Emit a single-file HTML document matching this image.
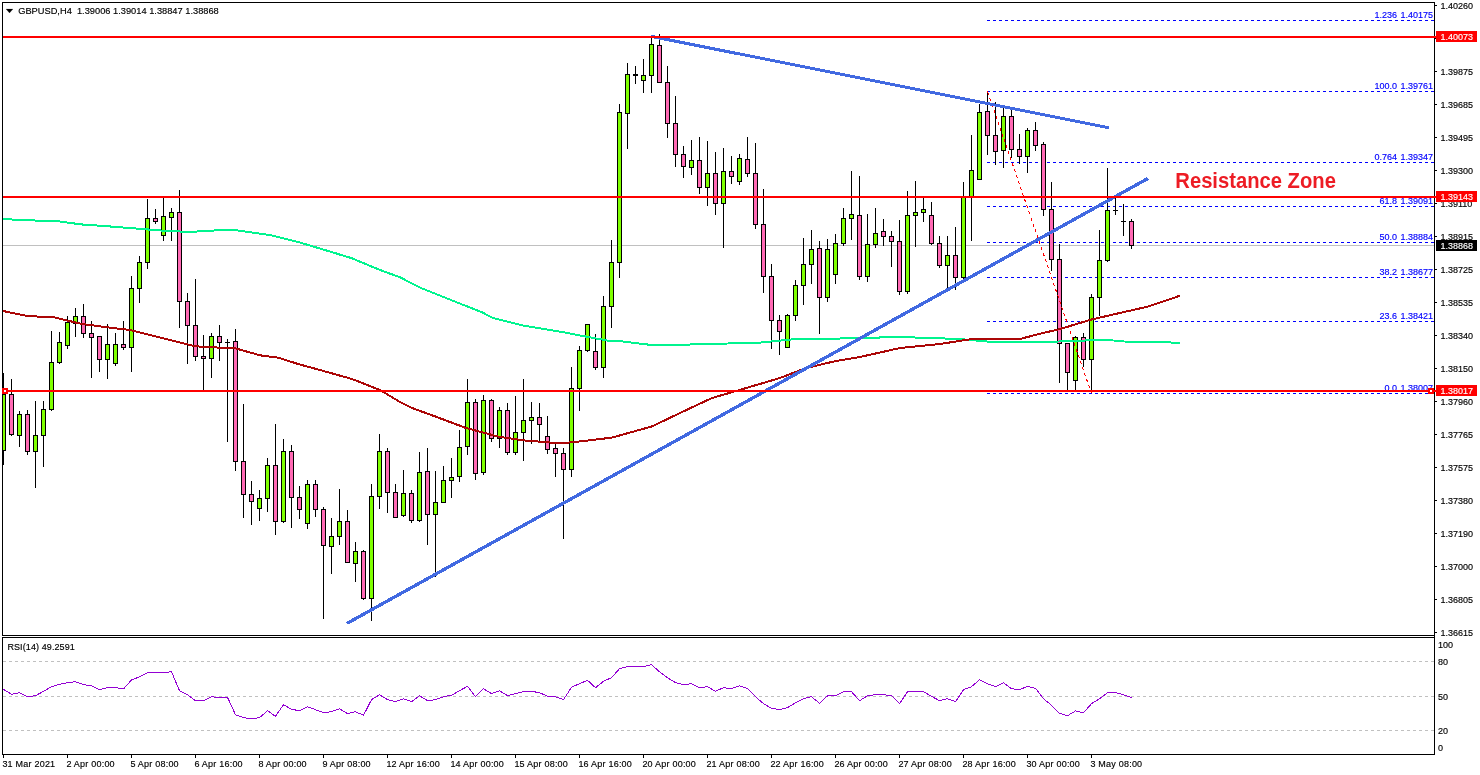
<!DOCTYPE html>
<html lang="en"><head><meta charset="utf-8"><title>GBPUSD,H4</title>
<style>
html,body{margin:0;padding:0;background:#fff;overflow:hidden}
svg{display:block;font-family:"Liberation Sans", sans-serif;font-size:9.0px}
.ax{fill:#000;stroke:#000}.fb{fill:#0000ff;stroke:#0000ff;word-spacing:1px}.wl{fill:#fff;stroke:#fff}.ax,.fb,.wl{stroke-width:.15px}
.rz{font-weight:bold;font-size:21.6px;fill:#ed1c24}
</style></head><body>
<svg width="1480" height="775" viewBox="0 0 1480 775">
<rect x="0" y="0" width="1480" height="775" fill="#fff"/>
<defs><clipPath id="cp"><rect x="2" y="2" width="1432" height="633"/></clipPath></defs>
<g clip-path="url(#cp)" shape-rendering="crispEdges">
<rect x="3" y="245" width="1431" height="1" fill="#c0c0c0"/>
<line x1="987" y1="20.5" x2="1434" y2="20.5" stroke="#0000ff" stroke-width="1" stroke-dasharray="3 3"/>
<line x1="987" y1="91.5" x2="1434" y2="91.5" stroke="#0000ff" stroke-width="1" stroke-dasharray="3 3"/>
<line x1="987" y1="162.5" x2="1434" y2="162.5" stroke="#0000ff" stroke-width="1" stroke-dasharray="3 3"/>
<line x1="987" y1="206.5" x2="1434" y2="206.5" stroke="#0000ff" stroke-width="1" stroke-dasharray="3 3"/>
<line x1="987" y1="242.5" x2="1434" y2="242.5" stroke="#0000ff" stroke-width="1" stroke-dasharray="3 3"/>
<line x1="987" y1="277.5" x2="1434" y2="277.5" stroke="#0000ff" stroke-width="1" stroke-dasharray="3 3"/>
<line x1="987" y1="321.5" x2="1434" y2="321.5" stroke="#0000ff" stroke-width="1" stroke-dasharray="3 3"/>
<line x1="987" y1="393.5" x2="1434" y2="393.5" stroke="#0000ff" stroke-width="1" stroke-dasharray="3 3"/>
</g>
<g class="fb" text-anchor="end">
<text x="1433" y="18">1.236 1.40175</text>
<text x="1433" y="89">100.0 1.39761</text>
<text x="1433" y="160">0.764 1.39347</text>
<text x="1433" y="204">61.8 1.39091</text>
<text x="1433" y="240">50.0 1.38884</text>
<text x="1433" y="275">38.2 1.38677</text>
<text x="1433" y="319">23.6 1.38421</text>
<text x="1433" y="391">0.0 1.38007</text>
</g>
<g clip-path="url(#cp)" shape-rendering="crispEdges">
<rect x="3" y="373" width="1" height="92" fill="#000"/>
<rect x="1" y="394" width="5" height="57" fill="#000"/>
<rect x="2" y="395" width="3" height="55" fill="#7fff00"/>
<rect x="11" y="379" width="1" height="57" fill="#000"/>
<rect x="9" y="394" width="5" height="41" fill="#000"/>
<rect x="10" y="395" width="3" height="39" fill="#ff69b4"/>
<rect x="19" y="411" width="1" height="36" fill="#000"/>
<rect x="17" y="414" width="5" height="22" fill="#000"/>
<rect x="18" y="415" width="3" height="20" fill="#7fff00"/>
<rect x="27" y="410" width="1" height="45" fill="#000"/>
<rect x="25" y="414" width="5" height="38" fill="#000"/>
<rect x="26" y="415" width="3" height="36" fill="#ff69b4"/>
<rect x="35" y="401" width="1" height="87" fill="#000"/>
<rect x="33" y="435" width="5" height="17" fill="#000"/>
<rect x="34" y="436" width="3" height="15" fill="#7fff00"/>
<rect x="43" y="401" width="1" height="66" fill="#000"/>
<rect x="41" y="409" width="5" height="27" fill="#000"/>
<rect x="42" y="410" width="3" height="25" fill="#7fff00"/>
<rect x="51" y="331" width="1" height="80" fill="#000"/>
<rect x="49" y="362" width="5" height="48" fill="#000"/>
<rect x="50" y="363" width="3" height="46" fill="#7fff00"/>
<rect x="59" y="332" width="1" height="32" fill="#000"/>
<rect x="57" y="342" width="5" height="21" fill="#000"/>
<rect x="58" y="343" width="3" height="19" fill="#7fff00"/>
<rect x="67" y="316" width="1" height="33" fill="#000"/>
<rect x="65" y="322" width="5" height="24" fill="#000"/>
<rect x="66" y="323" width="3" height="22" fill="#7fff00"/>
<rect x="75" y="308" width="1" height="29" fill="#000"/>
<rect x="73" y="316" width="5" height="8" fill="#000"/>
<rect x="74" y="317" width="3" height="6" fill="#7fff00"/>
<rect x="83" y="304" width="1" height="34" fill="#000"/>
<rect x="81" y="316" width="5" height="18" fill="#000"/>
<rect x="82" y="317" width="3" height="16" fill="#ff69b4"/>
<rect x="91" y="321" width="1" height="57" fill="#000"/>
<rect x="89" y="333" width="5" height="5" fill="#000"/>
<rect x="90" y="334" width="3" height="3" fill="#ff69b4"/>
<rect x="99" y="336" width="1" height="36" fill="#000"/>
<rect x="97" y="336" width="5" height="24" fill="#000"/>
<rect x="98" y="337" width="3" height="22" fill="#ff69b4"/>
<rect x="107" y="324" width="1" height="55" fill="#000"/>
<rect x="105" y="344" width="5" height="16" fill="#000"/>
<rect x="106" y="345" width="3" height="14" fill="#7fff00"/>
<rect x="115" y="333" width="1" height="33" fill="#000"/>
<rect x="113" y="344" width="5" height="20" fill="#000"/>
<rect x="114" y="345" width="3" height="18" fill="#7fff00"/>
<rect x="123" y="321" width="1" height="29" fill="#000"/>
<rect x="121" y="344" width="5" height="4" fill="#000"/>
<rect x="122" y="345" width="3" height="2" fill="#ff69b4"/>
<rect x="131" y="276" width="1" height="96" fill="#000"/>
<rect x="129" y="288" width="5" height="60" fill="#000"/>
<rect x="130" y="289" width="3" height="58" fill="#7fff00"/>
<rect x="139" y="256" width="1" height="47" fill="#000"/>
<rect x="137" y="262" width="5" height="27" fill="#000"/>
<rect x="138" y="263" width="3" height="25" fill="#7fff00"/>
<rect x="147" y="199" width="1" height="70" fill="#000"/>
<rect x="145" y="218" width="5" height="45" fill="#000"/>
<rect x="146" y="219" width="3" height="43" fill="#7fff00"/>
<rect x="155" y="209" width="1" height="15" fill="#000"/>
<rect x="153" y="218" width="5" height="4" fill="#000"/>
<rect x="154" y="219" width="3" height="2" fill="#ff69b4"/>
<rect x="163" y="197" width="1" height="44" fill="#000"/>
<rect x="161" y="216" width="5" height="20" fill="#000"/>
<rect x="162" y="217" width="3" height="18" fill="#7fff00"/>
<rect x="171" y="208" width="1" height="33" fill="#000"/>
<rect x="169" y="212" width="5" height="6" fill="#000"/>
<rect x="170" y="213" width="3" height="4" fill="#7fff00"/>
<rect x="179" y="190" width="1" height="138" fill="#000"/>
<rect x="177" y="212" width="5" height="90" fill="#000"/>
<rect x="178" y="213" width="3" height="88" fill="#ff69b4"/>
<rect x="187" y="293" width="1" height="71" fill="#000"/>
<rect x="185" y="301" width="5" height="25" fill="#000"/>
<rect x="186" y="302" width="3" height="23" fill="#ff69b4"/>
<rect x="195" y="279" width="1" height="82" fill="#000"/>
<rect x="193" y="325" width="5" height="32" fill="#000"/>
<rect x="194" y="326" width="3" height="30" fill="#ff69b4"/>
<rect x="203" y="335" width="1" height="55" fill="#000"/>
<rect x="201" y="356" width="5" height="3" fill="#000"/>
<rect x="202" y="357" width="3" height="1" fill="#ff69b4"/>
<rect x="211" y="333" width="1" height="45" fill="#000"/>
<rect x="209" y="336" width="5" height="23" fill="#000"/>
<rect x="210" y="337" width="3" height="21" fill="#7fff00"/>
<rect x="219" y="325" width="1" height="36" fill="#000"/>
<rect x="217" y="336" width="5" height="7" fill="#000"/>
<rect x="218" y="337" width="3" height="5" fill="#ff69b4"/>
<rect x="227" y="339" width="1" height="103" fill="#000"/>
<rect x="225" y="342" width="5" height="1" fill="#000"/>
<rect x="235" y="329" width="1" height="142" fill="#000"/>
<rect x="233" y="341" width="5" height="121" fill="#000"/>
<rect x="234" y="342" width="3" height="119" fill="#ff69b4"/>
<rect x="243" y="404" width="1" height="114" fill="#000"/>
<rect x="241" y="461" width="5" height="34" fill="#000"/>
<rect x="242" y="462" width="3" height="32" fill="#ff69b4"/>
<rect x="251" y="481" width="1" height="44" fill="#000"/>
<rect x="249" y="494" width="5" height="8" fill="#000"/>
<rect x="250" y="495" width="3" height="6" fill="#ff69b4"/>
<rect x="259" y="490" width="1" height="31" fill="#000"/>
<rect x="257" y="498" width="5" height="11" fill="#000"/>
<rect x="258" y="499" width="3" height="9" fill="#7fff00"/>
<rect x="267" y="458" width="1" height="54" fill="#000"/>
<rect x="265" y="465" width="5" height="34" fill="#000"/>
<rect x="266" y="466" width="3" height="32" fill="#7fff00"/>
<rect x="275" y="424" width="1" height="111" fill="#000"/>
<rect x="273" y="465" width="5" height="57" fill="#000"/>
<rect x="274" y="466" width="3" height="55" fill="#ff69b4"/>
<rect x="283" y="439" width="1" height="84" fill="#000"/>
<rect x="281" y="451" width="5" height="71" fill="#000"/>
<rect x="282" y="452" width="3" height="69" fill="#7fff00"/>
<rect x="291" y="445" width="1" height="83" fill="#000"/>
<rect x="289" y="451" width="5" height="47" fill="#000"/>
<rect x="290" y="452" width="3" height="45" fill="#ff69b4"/>
<rect x="299" y="486" width="1" height="33" fill="#000"/>
<rect x="297" y="497" width="5" height="13" fill="#000"/>
<rect x="298" y="498" width="3" height="11" fill="#ff69b4"/>
<rect x="307" y="480" width="1" height="49" fill="#000"/>
<rect x="305" y="484" width="5" height="40" fill="#000"/>
<rect x="306" y="485" width="3" height="38" fill="#7fff00"/>
<rect x="315" y="480" width="1" height="37" fill="#000"/>
<rect x="313" y="484" width="5" height="26" fill="#000"/>
<rect x="314" y="485" width="3" height="24" fill="#ff69b4"/>
<rect x="323" y="507" width="1" height="112" fill="#000"/>
<rect x="321" y="509" width="5" height="37" fill="#000"/>
<rect x="322" y="510" width="3" height="35" fill="#ff69b4"/>
<rect x="331" y="518" width="1" height="56" fill="#000"/>
<rect x="329" y="536" width="5" height="11" fill="#000"/>
<rect x="330" y="537" width="3" height="9" fill="#7fff00"/>
<rect x="339" y="489" width="1" height="56" fill="#000"/>
<rect x="337" y="521" width="5" height="16" fill="#000"/>
<rect x="338" y="522" width="3" height="14" fill="#7fff00"/>
<rect x="347" y="510" width="1" height="53" fill="#000"/>
<rect x="345" y="521" width="5" height="42" fill="#000"/>
<rect x="346" y="522" width="3" height="40" fill="#ff69b4"/>
<rect x="355" y="542" width="1" height="40" fill="#000"/>
<rect x="353" y="551" width="5" height="13" fill="#000"/>
<rect x="354" y="552" width="3" height="11" fill="#7fff00"/>
<rect x="363" y="550" width="1" height="50" fill="#000"/>
<rect x="361" y="551" width="5" height="48" fill="#000"/>
<rect x="362" y="552" width="3" height="46" fill="#ff69b4"/>
<rect x="371" y="484" width="1" height="137" fill="#000"/>
<rect x="369" y="496" width="5" height="103" fill="#000"/>
<rect x="370" y="497" width="3" height="101" fill="#7fff00"/>
<rect x="379" y="434" width="1" height="75" fill="#000"/>
<rect x="377" y="451" width="5" height="46" fill="#000"/>
<rect x="378" y="452" width="3" height="44" fill="#7fff00"/>
<rect x="387" y="448" width="1" height="65" fill="#000"/>
<rect x="385" y="451" width="5" height="42" fill="#000"/>
<rect x="386" y="452" width="3" height="40" fill="#ff69b4"/>
<rect x="395" y="484" width="1" height="34" fill="#000"/>
<rect x="393" y="492" width="5" height="26" fill="#000"/>
<rect x="394" y="493" width="3" height="24" fill="#ff69b4"/>
<rect x="403" y="470" width="1" height="47" fill="#000"/>
<rect x="401" y="493" width="5" height="23" fill="#000"/>
<rect x="402" y="494" width="3" height="21" fill="#7fff00"/>
<rect x="411" y="490" width="1" height="33" fill="#000"/>
<rect x="409" y="493" width="5" height="28" fill="#000"/>
<rect x="410" y="494" width="3" height="26" fill="#ff69b4"/>
<rect x="419" y="452" width="1" height="70" fill="#000"/>
<rect x="417" y="472" width="5" height="49" fill="#000"/>
<rect x="418" y="473" width="3" height="47" fill="#7fff00"/>
<rect x="427" y="448" width="1" height="97" fill="#000"/>
<rect x="425" y="471" width="5" height="44" fill="#000"/>
<rect x="426" y="472" width="3" height="42" fill="#ff69b4"/>
<rect x="435" y="471" width="1" height="106" fill="#000"/>
<rect x="433" y="502" width="5" height="13" fill="#000"/>
<rect x="434" y="503" width="3" height="11" fill="#7fff00"/>
<rect x="443" y="466" width="1" height="37" fill="#000"/>
<rect x="441" y="480" width="5" height="23" fill="#000"/>
<rect x="442" y="481" width="3" height="21" fill="#7fff00"/>
<rect x="451" y="458" width="1" height="40" fill="#000"/>
<rect x="449" y="477" width="5" height="4" fill="#000"/>
<rect x="450" y="478" width="3" height="2" fill="#7fff00"/>
<rect x="459" y="430" width="1" height="52" fill="#000"/>
<rect x="457" y="447" width="5" height="30" fill="#000"/>
<rect x="458" y="448" width="3" height="28" fill="#7fff00"/>
<rect x="467" y="379" width="1" height="76" fill="#000"/>
<rect x="465" y="402" width="5" height="45" fill="#000"/>
<rect x="466" y="403" width="3" height="43" fill="#7fff00"/>
<rect x="475" y="399" width="1" height="81" fill="#000"/>
<rect x="473" y="402" width="5" height="72" fill="#000"/>
<rect x="474" y="403" width="3" height="70" fill="#ff69b4"/>
<rect x="483" y="395" width="1" height="80" fill="#000"/>
<rect x="481" y="400" width="5" height="73" fill="#000"/>
<rect x="482" y="401" width="3" height="71" fill="#7fff00"/>
<rect x="491" y="399" width="1" height="43" fill="#000"/>
<rect x="489" y="400" width="5" height="39" fill="#000"/>
<rect x="490" y="401" width="3" height="37" fill="#ff69b4"/>
<rect x="499" y="407" width="1" height="41" fill="#000"/>
<rect x="497" y="410" width="5" height="29" fill="#000"/>
<rect x="498" y="411" width="3" height="27" fill="#7fff00"/>
<rect x="507" y="403" width="1" height="52" fill="#000"/>
<rect x="505" y="410" width="5" height="43" fill="#000"/>
<rect x="506" y="411" width="3" height="41" fill="#ff69b4"/>
<rect x="515" y="396" width="1" height="59" fill="#000"/>
<rect x="513" y="432" width="5" height="21" fill="#000"/>
<rect x="514" y="433" width="3" height="19" fill="#7fff00"/>
<rect x="523" y="379" width="1" height="82" fill="#000"/>
<rect x="521" y="420" width="5" height="13" fill="#000"/>
<rect x="522" y="421" width="3" height="11" fill="#7fff00"/>
<rect x="531" y="402" width="1" height="42" fill="#000"/>
<rect x="529" y="417" width="5" height="4" fill="#000"/>
<rect x="530" y="418" width="3" height="2" fill="#7fff00"/>
<rect x="539" y="403" width="1" height="39" fill="#000"/>
<rect x="537" y="417" width="5" height="8" fill="#000"/>
<rect x="538" y="418" width="3" height="6" fill="#ff69b4"/>
<rect x="547" y="416" width="1" height="38" fill="#000"/>
<rect x="545" y="436" width="5" height="14" fill="#000"/>
<rect x="546" y="437" width="3" height="12" fill="#ff69b4"/>
<rect x="555" y="444" width="1" height="33" fill="#000"/>
<rect x="553" y="448" width="5" height="6" fill="#000"/>
<rect x="554" y="449" width="3" height="4" fill="#ff69b4"/>
<rect x="563" y="448" width="1" height="91" fill="#000"/>
<rect x="561" y="453" width="5" height="17" fill="#000"/>
<rect x="562" y="454" width="3" height="15" fill="#ff69b4"/>
<rect x="571" y="367" width="1" height="110" fill="#000"/>
<rect x="569" y="388" width="5" height="82" fill="#000"/>
<rect x="570" y="389" width="3" height="80" fill="#7fff00"/>
<rect x="579" y="346" width="1" height="65" fill="#000"/>
<rect x="577" y="350" width="5" height="39" fill="#000"/>
<rect x="578" y="351" width="3" height="37" fill="#7fff00"/>
<rect x="587" y="324" width="1" height="28" fill="#000"/>
<rect x="585" y="324" width="5" height="27" fill="#000"/>
<rect x="586" y="325" width="3" height="25" fill="#7fff00"/>
<rect x="595" y="334" width="1" height="36" fill="#000"/>
<rect x="593" y="351" width="5" height="17" fill="#000"/>
<rect x="594" y="352" width="3" height="15" fill="#ff69b4"/>
<rect x="603" y="296" width="1" height="82" fill="#000"/>
<rect x="601" y="306" width="5" height="62" fill="#000"/>
<rect x="602" y="307" width="3" height="60" fill="#7fff00"/>
<rect x="611" y="240" width="1" height="88" fill="#000"/>
<rect x="609" y="262" width="5" height="45" fill="#000"/>
<rect x="610" y="263" width="3" height="43" fill="#7fff00"/>
<rect x="619" y="104" width="1" height="174" fill="#000"/>
<rect x="617" y="112" width="5" height="151" fill="#000"/>
<rect x="618" y="113" width="3" height="149" fill="#7fff00"/>
<rect x="627" y="63" width="1" height="86" fill="#000"/>
<rect x="625" y="74" width="5" height="40" fill="#000"/>
<rect x="626" y="75" width="3" height="38" fill="#7fff00"/>
<rect x="635" y="66" width="1" height="18" fill="#000"/>
<rect x="633" y="74" width="5" height="2" fill="#000"/>
<rect x="643" y="59" width="1" height="34" fill="#000"/>
<rect x="641" y="75" width="5" height="6" fill="#000"/>
<rect x="642" y="76" width="3" height="4" fill="#7fff00"/>
<rect x="651" y="35" width="1" height="58" fill="#000"/>
<rect x="649" y="44" width="5" height="32" fill="#000"/>
<rect x="650" y="45" width="3" height="30" fill="#7fff00"/>
<rect x="659" y="34" width="1" height="49" fill="#000"/>
<rect x="657" y="45" width="5" height="38" fill="#000"/>
<rect x="658" y="46" width="3" height="36" fill="#ff69b4"/>
<rect x="667" y="66" width="1" height="72" fill="#000"/>
<rect x="665" y="82" width="5" height="42" fill="#000"/>
<rect x="666" y="83" width="3" height="40" fill="#ff69b4"/>
<rect x="675" y="96" width="1" height="71" fill="#000"/>
<rect x="673" y="123" width="5" height="32" fill="#000"/>
<rect x="674" y="124" width="3" height="30" fill="#ff69b4"/>
<rect x="683" y="146" width="1" height="32" fill="#000"/>
<rect x="681" y="154" width="5" height="13" fill="#000"/>
<rect x="682" y="155" width="3" height="11" fill="#ff69b4"/>
<rect x="691" y="140" width="1" height="35" fill="#000"/>
<rect x="689" y="160" width="5" height="8" fill="#000"/>
<rect x="690" y="161" width="3" height="6" fill="#7fff00"/>
<rect x="699" y="137" width="1" height="57" fill="#000"/>
<rect x="697" y="160" width="5" height="28" fill="#000"/>
<rect x="698" y="161" width="3" height="26" fill="#ff69b4"/>
<rect x="707" y="141" width="1" height="65" fill="#000"/>
<rect x="705" y="173" width="5" height="15" fill="#000"/>
<rect x="706" y="174" width="3" height="13" fill="#7fff00"/>
<rect x="715" y="152" width="1" height="63" fill="#000"/>
<rect x="713" y="173" width="5" height="31" fill="#000"/>
<rect x="714" y="174" width="3" height="29" fill="#ff69b4"/>
<rect x="723" y="148" width="1" height="100" fill="#000"/>
<rect x="721" y="171" width="5" height="33" fill="#000"/>
<rect x="722" y="172" width="3" height="31" fill="#7fff00"/>
<rect x="731" y="156" width="1" height="28" fill="#000"/>
<rect x="729" y="171" width="5" height="6" fill="#000"/>
<rect x="730" y="172" width="3" height="4" fill="#ff69b4"/>
<rect x="739" y="154" width="1" height="31" fill="#000"/>
<rect x="737" y="158" width="5" height="24" fill="#000"/>
<rect x="738" y="159" width="3" height="22" fill="#7fff00"/>
<rect x="747" y="137" width="1" height="40" fill="#000"/>
<rect x="745" y="159" width="5" height="15" fill="#000"/>
<rect x="746" y="160" width="3" height="13" fill="#ff69b4"/>
<rect x="755" y="143" width="1" height="86" fill="#000"/>
<rect x="753" y="173" width="5" height="52" fill="#000"/>
<rect x="754" y="174" width="3" height="50" fill="#ff69b4"/>
<rect x="763" y="189" width="1" height="104" fill="#000"/>
<rect x="761" y="224" width="5" height="53" fill="#000"/>
<rect x="762" y="225" width="3" height="51" fill="#ff69b4"/>
<rect x="771" y="264" width="1" height="85" fill="#000"/>
<rect x="769" y="276" width="5" height="45" fill="#000"/>
<rect x="770" y="277" width="3" height="43" fill="#ff69b4"/>
<rect x="779" y="315" width="1" height="40" fill="#000"/>
<rect x="777" y="320" width="5" height="12" fill="#000"/>
<rect x="778" y="321" width="3" height="10" fill="#ff69b4"/>
<rect x="787" y="314" width="1" height="34" fill="#000"/>
<rect x="785" y="315" width="5" height="33" fill="#000"/>
<rect x="786" y="316" width="3" height="31" fill="#7fff00"/>
<rect x="795" y="280" width="1" height="41" fill="#000"/>
<rect x="793" y="285" width="5" height="31" fill="#000"/>
<rect x="794" y="286" width="3" height="29" fill="#7fff00"/>
<rect x="803" y="238" width="1" height="67" fill="#000"/>
<rect x="801" y="264" width="5" height="22" fill="#000"/>
<rect x="802" y="265" width="3" height="20" fill="#7fff00"/>
<rect x="811" y="230" width="1" height="54" fill="#000"/>
<rect x="809" y="249" width="5" height="16" fill="#000"/>
<rect x="810" y="250" width="3" height="14" fill="#7fff00"/>
<rect x="819" y="241" width="1" height="93" fill="#000"/>
<rect x="817" y="248" width="5" height="50" fill="#000"/>
<rect x="818" y="249" width="3" height="48" fill="#ff69b4"/>
<rect x="827" y="239" width="1" height="63" fill="#000"/>
<rect x="825" y="249" width="5" height="49" fill="#000"/>
<rect x="826" y="250" width="3" height="47" fill="#7fff00"/>
<rect x="835" y="234" width="1" height="50" fill="#000"/>
<rect x="833" y="243" width="5" height="32" fill="#000"/>
<rect x="834" y="244" width="3" height="30" fill="#7fff00"/>
<rect x="843" y="208" width="1" height="38" fill="#000"/>
<rect x="841" y="218" width="5" height="26" fill="#000"/>
<rect x="842" y="219" width="3" height="24" fill="#7fff00"/>
<rect x="851" y="171" width="1" height="69" fill="#000"/>
<rect x="849" y="214" width="5" height="5" fill="#000"/>
<rect x="850" y="215" width="3" height="3" fill="#7fff00"/>
<rect x="859" y="176" width="1" height="104" fill="#000"/>
<rect x="857" y="215" width="5" height="62" fill="#000"/>
<rect x="858" y="216" width="3" height="60" fill="#ff69b4"/>
<rect x="867" y="214" width="1" height="68" fill="#000"/>
<rect x="865" y="244" width="5" height="33" fill="#000"/>
<rect x="866" y="245" width="3" height="31" fill="#7fff00"/>
<rect x="875" y="208" width="1" height="40" fill="#000"/>
<rect x="873" y="233" width="5" height="12" fill="#000"/>
<rect x="874" y="234" width="3" height="10" fill="#7fff00"/>
<rect x="883" y="219" width="1" height="27" fill="#000"/>
<rect x="881" y="231" width="5" height="6" fill="#000"/>
<rect x="882" y="232" width="3" height="4" fill="#ff69b4"/>
<rect x="891" y="231" width="1" height="36" fill="#000"/>
<rect x="889" y="236" width="5" height="6" fill="#000"/>
<rect x="890" y="237" width="3" height="4" fill="#ff69b4"/>
<rect x="899" y="220" width="1" height="75" fill="#000"/>
<rect x="897" y="241" width="5" height="51" fill="#000"/>
<rect x="898" y="242" width="3" height="49" fill="#ff69b4"/>
<rect x="907" y="191" width="1" height="103" fill="#000"/>
<rect x="905" y="215" width="5" height="77" fill="#000"/>
<rect x="906" y="216" width="3" height="75" fill="#7fff00"/>
<rect x="915" y="181" width="1" height="66" fill="#000"/>
<rect x="913" y="212" width="5" height="4" fill="#000"/>
<rect x="914" y="213" width="3" height="2" fill="#7fff00"/>
<rect x="923" y="198" width="1" height="24" fill="#000"/>
<rect x="921" y="209" width="5" height="4" fill="#000"/>
<rect x="922" y="210" width="3" height="2" fill="#7fff00"/>
<rect x="931" y="202" width="1" height="43" fill="#000"/>
<rect x="929" y="215" width="5" height="29" fill="#000"/>
<rect x="930" y="216" width="3" height="27" fill="#ff69b4"/>
<rect x="939" y="236" width="1" height="32" fill="#000"/>
<rect x="937" y="243" width="5" height="23" fill="#000"/>
<rect x="938" y="244" width="3" height="21" fill="#ff69b4"/>
<rect x="947" y="236" width="1" height="52" fill="#000"/>
<rect x="945" y="255" width="5" height="11" fill="#000"/>
<rect x="946" y="256" width="3" height="9" fill="#7fff00"/>
<rect x="955" y="227" width="1" height="63" fill="#000"/>
<rect x="953" y="255" width="5" height="23" fill="#000"/>
<rect x="954" y="256" width="3" height="21" fill="#ff69b4"/>
<rect x="963" y="182" width="1" height="97" fill="#000"/>
<rect x="961" y="197" width="5" height="81" fill="#000"/>
<rect x="962" y="198" width="3" height="79" fill="#7fff00"/>
<rect x="971" y="135" width="1" height="106" fill="#000"/>
<rect x="969" y="170" width="5" height="28" fill="#000"/>
<rect x="970" y="171" width="3" height="26" fill="#7fff00"/>
<rect x="979" y="104" width="1" height="76" fill="#000"/>
<rect x="977" y="112" width="5" height="68" fill="#000"/>
<rect x="978" y="113" width="3" height="66" fill="#7fff00"/>
<rect x="987" y="92" width="1" height="63" fill="#000"/>
<rect x="985" y="111" width="5" height="25" fill="#000"/>
<rect x="986" y="112" width="3" height="23" fill="#ff69b4"/>
<rect x="995" y="102" width="1" height="63" fill="#000"/>
<rect x="993" y="135" width="5" height="17" fill="#000"/>
<rect x="994" y="136" width="3" height="15" fill="#ff69b4"/>
<rect x="1003" y="108" width="1" height="60" fill="#000"/>
<rect x="1001" y="116" width="5" height="35" fill="#000"/>
<rect x="1002" y="117" width="3" height="33" fill="#7fff00"/>
<rect x="1011" y="110" width="1" height="48" fill="#000"/>
<rect x="1009" y="116" width="5" height="34" fill="#000"/>
<rect x="1010" y="117" width="3" height="32" fill="#ff69b4"/>
<rect x="1019" y="134" width="1" height="30" fill="#000"/>
<rect x="1017" y="149" width="5" height="8" fill="#000"/>
<rect x="1018" y="150" width="3" height="6" fill="#ff69b4"/>
<rect x="1027" y="128" width="1" height="45" fill="#000"/>
<rect x="1025" y="130" width="5" height="27" fill="#000"/>
<rect x="1026" y="131" width="3" height="25" fill="#7fff00"/>
<rect x="1035" y="122" width="1" height="29" fill="#000"/>
<rect x="1033" y="130" width="5" height="16" fill="#000"/>
<rect x="1034" y="131" width="3" height="14" fill="#ff69b4"/>
<rect x="1043" y="142" width="1" height="74" fill="#000"/>
<rect x="1041" y="144" width="5" height="66" fill="#000"/>
<rect x="1042" y="145" width="3" height="64" fill="#ff69b4"/>
<rect x="1051" y="182" width="1" height="89" fill="#000"/>
<rect x="1049" y="209" width="5" height="51" fill="#000"/>
<rect x="1050" y="210" width="3" height="49" fill="#ff69b4"/>
<rect x="1059" y="244" width="1" height="139" fill="#000"/>
<rect x="1057" y="259" width="5" height="85" fill="#000"/>
<rect x="1058" y="260" width="3" height="83" fill="#ff69b4"/>
<rect x="1067" y="343" width="1" height="48" fill="#000"/>
<rect x="1065" y="343" width="5" height="30" fill="#000"/>
<rect x="1066" y="344" width="3" height="28" fill="#ff69b4"/>
<rect x="1075" y="336" width="1" height="55" fill="#000"/>
<rect x="1073" y="337" width="5" height="44" fill="#000"/>
<rect x="1074" y="338" width="3" height="42" fill="#7fff00"/>
<rect x="1083" y="333" width="1" height="34" fill="#000"/>
<rect x="1081" y="337" width="5" height="23" fill="#000"/>
<rect x="1082" y="338" width="3" height="21" fill="#ff69b4"/>
<rect x="1091" y="294" width="1" height="98" fill="#000"/>
<rect x="1089" y="297" width="5" height="63" fill="#000"/>
<rect x="1090" y="298" width="3" height="61" fill="#7fff00"/>
<rect x="1099" y="230" width="1" height="86" fill="#000"/>
<rect x="1097" y="260" width="5" height="38" fill="#000"/>
<rect x="1098" y="261" width="3" height="36" fill="#7fff00"/>
<rect x="1107" y="168" width="1" height="94" fill="#000"/>
<rect x="1105" y="210" width="5" height="51" fill="#000"/>
<rect x="1106" y="211" width="3" height="49" fill="#7fff00"/>
<rect x="1115" y="198" width="1" height="17" fill="#000"/>
<rect x="1113" y="210" width="5" height="1" fill="#000"/>
<rect x="1123" y="204" width="1" height="32" fill="#000"/>
<rect x="1121" y="221" width="5" height="1" fill="#000"/>
<rect x="1131" y="219" width="1" height="30" fill="#000"/>
<rect x="1129" y="221" width="5" height="25" fill="#000"/>
<rect x="1130" y="222" width="3" height="23" fill="#ff69b4"/>
<line x1="987.5" y1="91.5" x2="1091.5" y2="393.5" stroke="#ff0000" stroke-width="1" stroke-dasharray="3.17 3.17"/>
<polyline points="3,219 27,220.3 57,221.1 81,224.4 108,226.3 135.5,228.5 162.6,230.6 190,232 211,230.6 233,229.8 252,232.5 271,235.2 298,242 325,250 352,258.3 380,270 400,277.3 420.5,287.8 440.8,295.9 461,304 481.4,312 492.5,317.8 522,325.3 542,328.7 562.4,332 582.7,336 607,340.5 623,341.5 651.6,345 680,345 700,344 756,343 796,339 836,338.6 900,337 960,339 996,342.4 1028,342.4 1076,341 1091.5,340.2 1106,339.8 1124,341.5 1171,342.5 1180,343" fill="none" stroke="#00f48e" stroke-width="2"/>
<polyline points="3,311 27,316 54,317.3 81,323.8 108,327.4 130,330 162.6,338.2 195,346.3 211,347.2 236,348.5 260,355.3 279,357.8 298,364 320,370 352,379 380,390 400,402 412,408 434,416 466,428 500,437 524,440.4 556,443 572,442.4 612,437.6 652,426.4 680,413 712,398 736,391 780,378 806,368 836,361 860,357 900,348 940,344 972,339 996,339 1020,339 1040,333.7 1059,329.3 1091.5,319.5 1121,312.7 1148,306.6 1180,295.7" fill="none" stroke="#ab0606" stroke-width="2"/>
<line x1="347" y1="623.4" x2="1148" y2="178.4" stroke="#4169e1" stroke-width="3.3"/>
<line x1="651" y1="36.3" x2="1109" y2="127.8" stroke="#4169e1" stroke-width="3"/>
</g>
<g shape-rendering="crispEdges">
<rect x="2" y="2" width="1433" height="1" fill="#000"/>
<rect x="2" y="2" width="1" height="634" fill="#000"/>
<rect x="2" y="635" width="1433" height="1" fill="#000"/>
<rect x="2" y="637" width="1433" height="1" fill="#000"/>
<rect x="2" y="637" width="1" height="118" fill="#000"/>
<rect x="2" y="754" width="1433" height="1" fill="#000"/>
<rect x="1434" y="2" width="1" height="753" fill="#000"/>
<rect x="1435" y="5" width="2" height="1" fill="#000"/>
<rect x="1435" y="38" width="2" height="1" fill="#000"/>
<rect x="1435" y="71" width="2" height="1" fill="#000"/>
<rect x="1435" y="104" width="2" height="1" fill="#000"/>
<rect x="1435" y="137" width="2" height="1" fill="#000"/>
<rect x="1435" y="170" width="2" height="1" fill="#000"/>
<rect x="1435" y="203" width="2" height="1" fill="#000"/>
<rect x="1435" y="236" width="2" height="1" fill="#000"/>
<rect x="1435" y="269" width="2" height="1" fill="#000"/>
<rect x="1435" y="302" width="2" height="1" fill="#000"/>
<rect x="1435" y="335" width="2" height="1" fill="#000"/>
<rect x="1435" y="368" width="2" height="1" fill="#000"/>
<rect x="1435" y="401" width="2" height="1" fill="#000"/>
<rect x="1435" y="434" width="2" height="1" fill="#000"/>
<rect x="1435" y="467" width="2" height="1" fill="#000"/>
<rect x="1435" y="500" width="2" height="1" fill="#000"/>
<rect x="1435" y="533" width="2" height="1" fill="#000"/>
<rect x="1435" y="566" width="2" height="1" fill="#000"/>
<rect x="1435" y="599" width="2" height="1" fill="#000"/>
<rect x="1435" y="632" width="2" height="1" fill="#000"/>
<rect x="3" y="755" width="1" height="3" fill="#000"/>
<rect x="67" y="755" width="1" height="3" fill="#000"/>
<rect x="131" y="755" width="1" height="3" fill="#000"/>
<rect x="195" y="755" width="1" height="3" fill="#000"/>
<rect x="259" y="755" width="1" height="3" fill="#000"/>
<rect x="323" y="755" width="1" height="3" fill="#000"/>
<rect x="387" y="755" width="1" height="3" fill="#000"/>
<rect x="451" y="755" width="1" height="3" fill="#000"/>
<rect x="515" y="755" width="1" height="3" fill="#000"/>
<rect x="579" y="755" width="1" height="3" fill="#000"/>
<rect x="643" y="755" width="1" height="3" fill="#000"/>
<rect x="707" y="755" width="1" height="3" fill="#000"/>
<rect x="771" y="755" width="1" height="3" fill="#000"/>
<rect x="835" y="755" width="1" height="3" fill="#000"/>
<rect x="899" y="755" width="1" height="3" fill="#000"/>
<rect x="963" y="755" width="1" height="3" fill="#000"/>
<rect x="1027" y="755" width="1" height="3" fill="#000"/>
<rect x="1091" y="755" width="1" height="3" fill="#000"/>
<line x1="3" y1="661.5" x2="1434" y2="661.5" stroke="#c0c0c0" stroke-width="1" stroke-dasharray="3 3"/>
<line x1="3" y1="696.5" x2="1434" y2="696.5" stroke="#c0c0c0" stroke-width="1" stroke-dasharray="3 3"/>
<line x1="3" y1="730.5" x2="1434" y2="730.5" stroke="#c0c0c0" stroke-width="1" stroke-dasharray="3 3"/>
</g>
<polyline fill="none" stroke="#9400d3" stroke-width="1" shape-rendering="crispEdges" points="3.5,689.3 11.5,694.3 19.5,692.7 27.5,696.7 35.5,695.7 43.5,691.3 51.5,686.8 59.5,684.3 67.5,682.7 75.5,681.7 83.5,684.7 91.5,685.7 99.5,689.7 107.5,687.7 115.5,687.7 123.5,688.9 131.5,679.9 139.5,676.9 147.5,672.7 155.5,672.7 163.5,672.7 171.5,671.7 179.5,690.7 187.5,694.7 195.5,700.7 203.5,700.7 211.5,696.7 219.5,697.7 227.5,697.3 235.5,714.7 243.5,717.7 251.5,718.7 259.5,717.7 267.5,710.7 275.5,716.3 283.5,704.7 291.5,709.3 299.5,710.7 307.5,706.7 315.5,709.7 323.5,712.7 331.5,711.7 339.5,708.7 347.5,713.7 355.5,711.7 363.5,715.3 371.5,699.7 379.5,694.7 387.5,699.7 395.5,701.7 403.5,698.7 411.5,701.7 419.5,695.7 427.5,700.7 435.5,699.7 443.5,696.7 451.5,695.3 459.5,690.7 467.5,686.3 475.5,696.7 483.5,688.7 491.5,693.7 499.5,690.7 507.5,695.7 515.5,693.7 523.5,691.7 531.5,691.3 539.5,692.7 547.5,696.3 555.5,696.7 563.5,699.7 571.5,687.3 579.5,683.7 587.5,680.3 595.5,687.7 603.5,681.3 611.5,677.7 619.5,668.7 627.5,666.7 635.5,666.7 643.5,666.7 651.5,664.7 659.5,671.7 667.5,677.7 675.5,682.7 683.5,684.7 691.5,683.7 699.5,687.7 707.5,686.7 715.5,691.3 723.5,687.7 731.5,688.7 739.5,685.7 747.5,688.7 755.5,696.7 763.5,703.7 771.5,708.3 779.5,709.7 787.5,707.7 795.5,702.7 803.5,698.7 811.5,696.7 819.5,703.3 827.5,695.9 835.5,695.7 843.5,691.7 851.5,691.7 859.5,700.7 867.5,695.9 875.5,694.7 883.5,694.7 891.5,695.7 899.5,703.7 907.5,691.7 915.5,691.7 923.5,691.7 931.5,696.3 939.5,700.7 947.5,698.7 955.5,701.7 963.5,689.7 971.5,686.7 979.5,679.7 987.5,683.7 995.5,686.7 1003.5,682.7 1011.5,688.7 1019.5,689.7 1027.5,686.3 1035.5,688.3 1043.5,698.7 1051.5,705.3 1059.5,713.3 1067.5,715.7 1075.5,710.9 1083.5,712.7 1091.5,703.7 1099.5,698.7 1107.5,692.7 1115.5,692.7 1123.5,694.7 1131.5,697.7"/>
<g class="ax">
<text x="1440.5" y="9">1.40260</text>
<text x="1440.5" y="42">1.40070</text>
<text x="1440.5" y="75">1.39875</text>
<text x="1440.5" y="108">1.39685</text>
<text x="1440.5" y="141">1.39495</text>
<text x="1440.5" y="174">1.39300</text>
<text x="1440.5" y="207">1.39110</text>
<text x="1440.5" y="240">1.38915</text>
<text x="1440.5" y="273">1.38725</text>
<text x="1440.5" y="306">1.38535</text>
<text x="1440.5" y="339">1.38340</text>
<text x="1440.5" y="372">1.38150</text>
<text x="1440.5" y="405">1.37960</text>
<text x="1440.5" y="438">1.37765</text>
<text x="1440.5" y="471">1.37575</text>
<text x="1440.5" y="504">1.37380</text>
<text x="1440.5" y="537">1.37190</text>
<text x="1440.5" y="570">1.37000</text>
<text x="1440.5" y="603">1.36805</text>
<text x="1440.5" y="636">1.36615</text>
<text x="1438" y="648">100</text>
<text x="1438" y="665">80</text>
<text x="1438" y="700">50</text>
<text x="1438" y="734">20</text>
<text x="1438" y="751">0</text>
<text x="2.4" y="766.6" letter-spacing=".22">31 Mar 2021</text>
<text x="66.4" y="766.6" letter-spacing=".22">2 Apr 00:00</text>
<text x="130.4" y="766.6" letter-spacing=".22">5 Apr 08:00</text>
<text x="194.4" y="766.6" letter-spacing=".22">6 Apr 16:00</text>
<text x="258.4" y="766.6" letter-spacing=".22">8 Apr 00:00</text>
<text x="322.4" y="766.6" letter-spacing=".22">9 Apr 08:00</text>
<text x="386.4" y="766.6" letter-spacing=".22">12 Apr 16:00</text>
<text x="450.4" y="766.6" letter-spacing=".22">14 Apr 00:00</text>
<text x="514.4" y="766.6" letter-spacing=".22">15 Apr 08:00</text>
<text x="578.4" y="766.6" letter-spacing=".22">16 Apr 16:00</text>
<text x="642.4" y="766.6" letter-spacing=".22">20 Apr 00:00</text>
<text x="706.4" y="766.6" letter-spacing=".22">21 Apr 08:00</text>
<text x="770.4" y="766.6" letter-spacing=".22">22 Apr 16:00</text>
<text x="834.4" y="766.6" letter-spacing=".22">26 Apr 00:00</text>
<text x="898.4" y="766.6" letter-spacing=".22">27 Apr 08:00</text>
<text x="962.4" y="766.6" letter-spacing=".22">28 Apr 16:00</text>
<text x="1026.4" y="766.6" letter-spacing=".22">30 Apr 00:00</text>
<text x="1090.4" y="766.6" letter-spacing=".22">3 May 08:00</text>
<text x="7.4" y="649.8" letter-spacing=".1">RSI(14) 49.2591</text>
<text x="18.2" y="13.5" textLength="200.6" lengthAdjust="spacingAndGlyphs" xml:space="preserve">GBPUSD,H4  1.39006 1.39014 1.38847 1.38868</text>
<path d="M6 9h7l-3.5 4z"/>
</g>
<g shape-rendering="crispEdges">
<rect x="3" y="36" width="1433" height="2" fill="#ff0000"/>
<rect x="1436" y="31" width="41" height="11" fill="#ff0000"/>
<rect x="3" y="196" width="1433" height="2" fill="#ff0000"/>
<rect x="1436" y="191" width="41" height="11" fill="#ff0000"/>
<rect x="3" y="390" width="1433" height="2" fill="#ff0000"/>
<rect x="1436" y="385" width="41" height="11" fill="#ff0000"/>
<rect x="1436" y="240" width="41" height="11" fill="#000"/>
<rect x="2" y="388" width="6" height="6" fill="#ff0000"/>
<rect x="4" y="390" width="2" height="2" fill="#fff"/>
<rect x="1428" y="388" width="6" height="6" fill="#ff0000"/>
<rect x="1430" y="390" width="2" height="2" fill="#fff"/>
</g>
<g class="wl">
<text x="1440.5" y="40">1.40073</text>
<text x="1440.5" y="200">1.39143</text>
<text x="1440.5" y="394">1.38017</text>
<text x="1440.5" y="249">1.38868</text>
</g>
<text class="rz" x="1175.3" y="187.8" textLength="160.6" lengthAdjust="spacingAndGlyphs">Resistance Zone</text>
</svg></body></html>
